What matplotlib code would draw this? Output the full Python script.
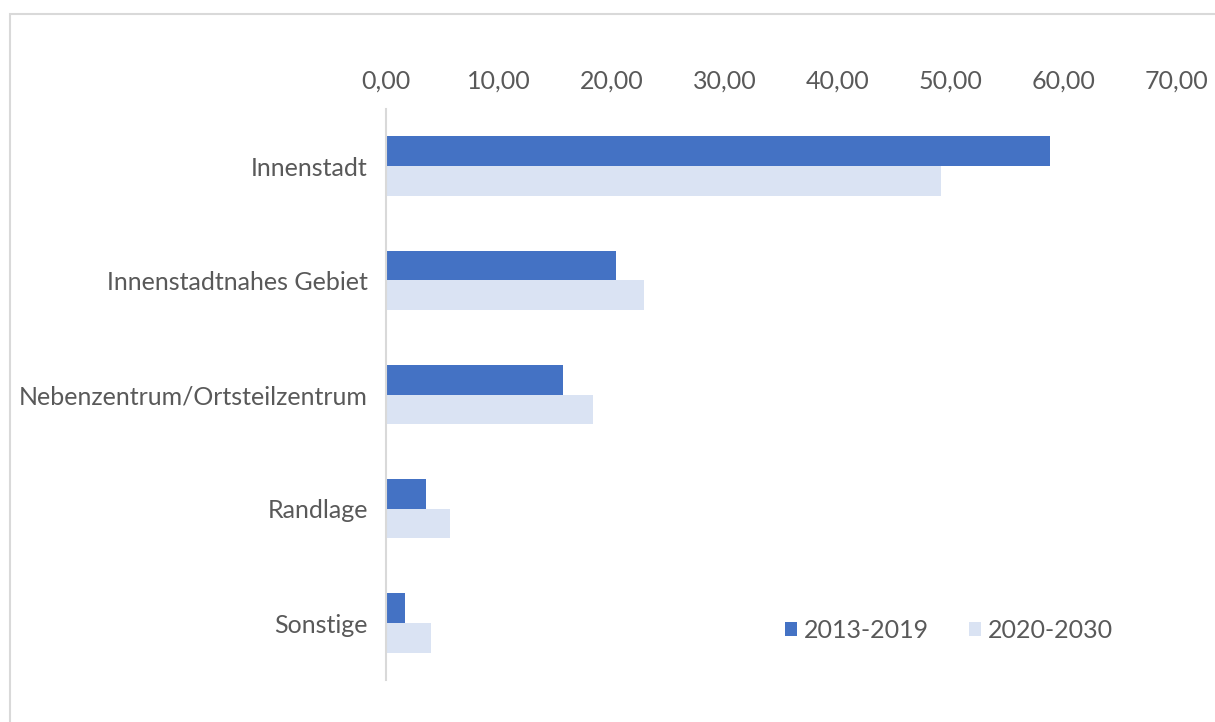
import numpy as np
import matplotlib.pyplot as plt
from matplotlib.ticker import FuncFormatter
from matplotlib.patches import Rectangle

categories = ['Innenstadt', 'Innenstadtnahes Gebiet', 'Nebenzentrum/Ortsteilzentrum',
              'Randlage', 'Sonstige']
values_2013_2019 = [58.8, 20.4, 15.7, 3.5, 1.7]
values_2020_2030 = [49.2, 22.9, 18.3, 5.7, 4.0]

dark = '#4472c4'
light = '#dae3f3'
text_col = '#595959'

plt.rcParams['font.family'] = ['Lato', 'DejaVu Sans']

fig = plt.figure(figsize=(12.15, 7.22), dpi=100)
ax = fig.add_axes([0.3177, 0.058, 0.6503, 0.791])

# outer frame like the exported chart area
fig.patches.append(Rectangle((0.008, -0.01), 1.0, 0.99, transform=fig.transFigure,
                             fill=False, edgecolor='#d9d9d9', linewidth=1.5))

y = np.arange(len(categories))
h = 0.26
ax.barh(y - h / 2, values_2013_2019, height=h, color=dark, label='2013-2019')
ax.barh(y + h / 2, values_2020_2030, height=h, color=light, label='2020-2030')

ax.set_ylim(len(categories) - 0.5, -0.5)
ax.set_xlim(0, 70)
ax.set_xticks(np.arange(0, 71, 10))
ax.xaxis.set_major_formatter(FuncFormatter(lambda v, p: f'{v:.2f}'.replace('.', ',')))
ax.xaxis.tick_top()
ax.set_yticks(y)
ax.set_yticklabels(categories)

ax.tick_params(axis='x', length=0, pad=12, labelsize=18, labelcolor=text_col)
ax.tick_params(axis='y', length=0, pad=13, labelsize=18, labelcolor=text_col)

for s in ['top', 'right', 'bottom']:
    ax.spines[s].set_visible(False)
ax.spines['left'].set_color('#d9d9d9')
ax.spines['left'].set_linewidth(1.5)

leg = ax.legend(loc='lower right', bbox_to_anchor=(0.948, 0.028), ncol=2, frameon=False,
                fontsize=18, handlelength=0.5, handleheight=0.5, handletextpad=0.25,
                columnspacing=1.6)
for t in leg.get_texts():
    t.set_color(text_col)

fig.savefig('out.png', dpi=100)
